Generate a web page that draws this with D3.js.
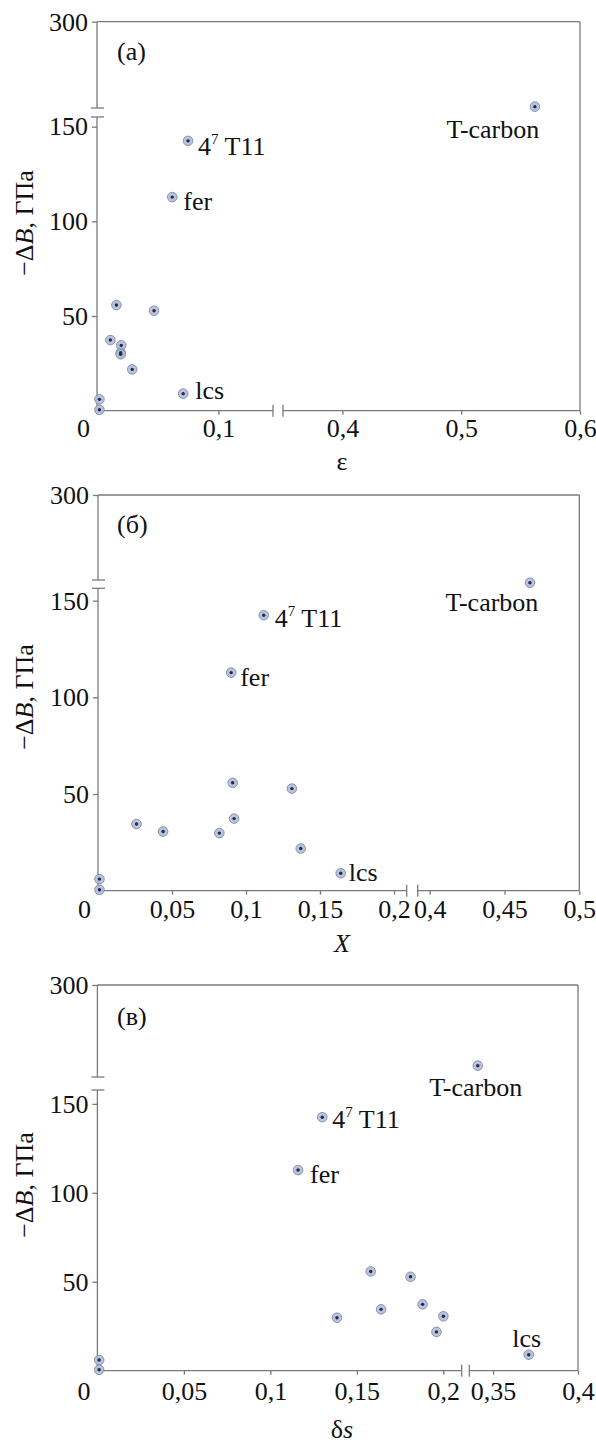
<!DOCTYPE html>
<html><head><meta charset="utf-8"><script src="https://cdn.jsdelivr.net/npm/d3@7"></script></head>
<body style="margin:0">
<svg id="chart" width="596" height="1445" style="display:block"></svg>
<script>
// ---------------- DATA ----------------
const materials = ["A", "B", "C", "D", "E", "F", "G", "lcs", "H", "I", "fer", "4^7 T11", "T-carbon"];
const minusDeltaB = [55.8, 52.8, 37.3, 34.5, 30.6, 29.8, 21.8, 9.0, 6.0, 0.5, 112.8, 142.5, 268];
const epsilon = [0.016, 0.047, 0.011, 0.020, 0.0195, 0.0195, 0.029, 0.071, 0.002, 0.002, 0.062, 0.075, 0.562];
const bigX = [0.091, 0.131, 0.092, 0.026, 0.044, 0.082, 0.137, 0.164, 0.001, 0.001, 0.090, 0.112, 0.467];
const deltaS = [0.158, 0.181, 0.188, 0.164, 0.200, 0.1385, 0.196, 0.371, 0.001, 0.001, 0.116, 0.130, 0.341];

const yTickValuesLower = [50, 100, 150];
const yTickValuesUpper = [300];
const xTicksA = [0, 0.1, 0.4, 0.5, 0.6];
const xTicksB = [0, 0.05, 0.1, 0.15, 0.2, 0.4, 0.45, 0.5];
const xTicksC = [0, 0.05, 0.1, 0.15, 0.2, 0.35, 0.4];
const panelLetters = ["(a)", "(б)", "(в)"];

// ---------------- LAYOUT ----------------
const panels = [
  { letter: panelLetters[0], xs: epsilon, xTicks: xTicksA, xLabel: "eps",
    x0: 97, x1: 580, xBreakPx: [273, 283], xDomL: [0, 0.145], xDomR: [0.35, 0.6],
    yTop: 21.7, yBrkTop: 108, yBrkBot: 117, y0: 410.7, yDomL: [0, 155.1], yDomU: [267.5, 300],
    letterY: 60, yLabelCy: 223, xLabelY: 470, tickLabelDy: 26,
    offs: { "fer": [11, 13, "start"], "4^7 T11": [10, 14, "start"], "lcs": [12, 5, "start"], "T-carbon": [-42, 31, "middle"] } },
  { letter: panelLetters[1], xs: bigX, xTicks: xTicksB, xLabel: "X",
    x0: 98, x1: 579.3, xBreakPx: [406.7, 417.7], xDomL: [0, 0.2086], xDomR: [0.392, 0.5],
    yTop: 495, yBrkTop: 580, yBrkBot: 588.3, y0: 890.7, yDomL: [0, 156.4], yDomU: [269, 300],
    letterY: 533, yLabelCy: 697, xLabelY: 952, tickLabelDy: 27,
    offs: { "fer": [9, 13, "start"], "4^7 T11": [11, 12, "start"], "lcs": [8, 8, "start"], "T-carbon": [-38, 28, "middle"] } },
  { letter: panelLetters[2], xs: deltaS, xTicks: xTicksC, xLabel: "ds",
    x0: 97.4, x1: 578, xBreakPx: [461.7, 469.3], xDomL: [0, 0.2106], xDomR: [0.336, 0.4],
    yTop: 985, yBrkTop: 1077, yBrkBot: 1090, y0: 1370.7, yDomL: [0, 157.8], yDomU: [263.5, 300],
    letterY: 1025, yLabelCy: 1185, xLabelY: 1438, tickLabelDy: 29,
    offs: { "fer": [12, 13, "start"], "4^7 T11": [10, 11, "start"], "lcs": [-2, -8, "middle"], "T-carbon": [-2, 30, "middle"] } }
];

const axisColor = "#7a7a7a";
const fontSize = 26;
const FONT = '"Liberation Serif"';
const locale = d3.formatLocale({ decimal: ",", thousands: " ", grouping: [3], currency: ["", ""] });
const fmt = locale.format("~g");

const svg = d3.select("#chart");

panels.forEach(p => {
  const g = svg.append("g");
  const xL = d3.scaleLinear().domain(p.xDomL).range([p.x0, p.xBreakPx[0]]);
  const xR = d3.scaleLinear().domain(p.xDomR).range([p.xBreakPx[1], p.x1]);
  const yL = d3.scaleLinear().domain(p.yDomL).range([p.y0, p.yBrkBot]);
  const yU = d3.scaleLinear().domain(p.yDomU).range([p.yBrkTop, p.yTop]);
  const xf = v => v <= p.xDomL[1] ? xL(v) : xR(v);
  const yf = v => v <= p.yDomL[1] ? yL(v) : yU(v);

  const line = (x1, y1, x2, y2, w = 1.3) => g.append("line")
    .attr("x1", x1).attr("y1", y1).attr("x2", x2).attr("y2", y2)
    .attr("stroke", axisColor).attr("stroke-width", w);

  line(p.x0, p.yTop, p.x1, p.yTop);
  line(p.x1, p.yTop, p.x1, p.y0);
  line(p.x0, p.yTop, p.x0, p.yBrkTop);
  line(p.x0, p.yBrkBot, p.x0, p.y0);
  line(p.x0 - 6, p.yBrkTop, p.x0 + 7, p.yBrkTop);
  line(p.x0 - 6, p.yBrkBot, p.x0 + 7, p.yBrkBot);
  line(p.x0, p.y0, p.xBreakPx[0], p.y0);
  line(p.xBreakPx[1], p.y0, p.x1, p.y0);
  line(p.xBreakPx[0], p.y0 - 6, p.xBreakPx[0], p.y0 + 6);
  line(p.xBreakPx[1], p.y0 - 6, p.xBreakPx[1], p.y0 + 6);

  // axes: use d3 for tick positions and labels
  const styleAxis = sel => {
    sel.attr("font-family", null).attr("font-size", null);
    sel.select(".domain").remove();
    sel.selectAll(".tick line").attr("stroke", axisColor).attr("stroke-width", 1.3);
    sel.selectAll(".tick text").attr("font-family", FONT)
      .attr("font-size", fontSize).attr("fill", "#111");
  };
  const yAxL = g.append("g").attr("transform", `translate(${p.x0},0)`)
    .call(d3.axisLeft(yL).tickValues(yTickValuesLower).tickSize(5).tickPadding(4).tickFormat(fmt));
  styleAxis(yAxL);
  const yAxU = g.append("g").attr("transform", `translate(${p.x0},0)`)
    .call(d3.axisLeft(yU).tickValues(yTickValuesUpper).tickSize(5).tickPadding(4).tickFormat(fmt));
  styleAxis(yAxU);

  const ticksL = p.xTicks.filter(v => v <= p.xDomL[1]);
  const ticksR = p.xTicks.filter(v => v > p.xDomL[1]);
  const xAxL = g.append("g").attr("transform", `translate(0,${p.y0})`)
    .call(d3.axisBottom(xL).tickValues(ticksL).tickSize(4).tickPadding(0).tickFormat(fmt));
  const xAxR = g.append("g").attr("transform", `translate(0,${p.y0})`)
    .call(d3.axisBottom(xR).tickValues(ticksR).tickSize(4).tickPadding(0).tickFormat(fmt));
  [xAxL, xAxR].forEach(a => {
    styleAxis(a);
    a.selectAll(".tick text").attr("dy", null).attr("y", p.tickLabelDy);
  });
  xAxL.selectAll(".tick").filter(d => d === 0).select("line").remove();
  xAxL.selectAll(".tick").filter(d => d === 0).select("text").attr("x", -14);

  const txt = sel => sel.attr("font-family", FONT).attr("font-size", fontSize).attr("fill", "#111");

  txt(svg.append("text").attr("x", 117).attr("y", p.letterY)).text(p.letter);

  const yl = txt(svg.append("text")
    .attr("transform", `translate(33,${p.yLabelCy}) rotate(-90)`)
    .attr("text-anchor", "middle"));
  yl.append("tspan").text("−Δ");
  yl.append("tspan").attr("font-style", "italic").text("B");
  yl.append("tspan").text(", ГПа");

  const xlab = txt(svg.append("text").attr("x", 342).attr("y", p.xLabelY)
    .attr("text-anchor", "middle"));
  if (p.xLabel === "eps") xlab.text("ε");
  else if (p.xLabel === "X") xlab.append("tspan").attr("font-style", "italic").text("X");
  else { xlab.append("tspan").text("δ"); xlab.append("tspan").attr("font-style", "italic").text("s"); }

  const pts = materials.map((m, i) => ({ m, x: p.xs[i], y: minusDeltaB[i] }));
  const pg = g.append("g");
  pg.selectAll("circle.halo").data(pts).join("circle").attr("class", "halo")
    .attr("cx", d => xf(d.x)).attr("cy", d => yf(d.y)).attr("r", 4.8)
    .attr("fill", "#b3bdd4").attr("fill-opacity", 0.9)
    .attr("stroke", "#7d8bae").attr("stroke-width", 0.9);
  pg.selectAll("circle.core").data(pts).join("circle").attr("class", "core")
    .attr("cx", d => xf(d.x)).attr("cy", d => yf(d.y)).attr("r", 1.7)
    .attr("fill", "#1d2a55");

  pts.filter(d => p.offs[d.m]).forEach(d => {
    const [dx, dy, anchor] = p.offs[d.m];
    const t = txt(svg.append("text").attr("x", xf(d.x) + dx).attr("y", yf(d.y) + dy)
      .attr("text-anchor", anchor));
    if (d.m === "4^7 T11") {
      t.append("tspan").text("4");
      t.append("tspan").attr("dy", -11).attr("font-size", 15).text("7");
      t.append("tspan").attr("dy", 11).text(" T11");
    } else {
      t.text(d.m);
    }
  });
});
</script>
</body>
</html>
